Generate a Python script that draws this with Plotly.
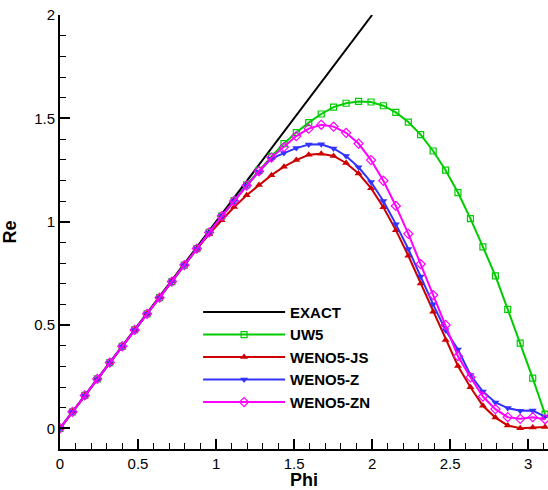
import plotly.graph_objects as go

phi = [0, 0.080, 0.159, 0.239, 0.319, 0.399, 0.478, 0.558, 0.638, 0.717,
       0.797, 0.877, 0.956, 1.036, 1.116, 1.196, 1.275, 1.355, 1.435, 1.514,
       1.594, 1.674, 1.753, 1.833, 1.913, 1.993, 2.072, 2.152, 2.232, 2.311,
       2.391, 2.471, 2.550, 2.630, 2.710, 2.790, 2.869, 2.949, 3.029, 3.108]

exact_x = [0, 2]
exact_y = [0, 2]

uw5 = [0, 0.080, 0.159, 0.239, 0.318, 0.397, 0.476, 0.554, 0.632, 0.710,
       0.790, 0.870, 0.948, 1.027, 1.102, 1.178, 1.248, 1.316, 1.378, 1.431,
       1.479, 1.521, 1.554, 1.573, 1.582, 1.579, 1.561, 1.529, 1.482, 1.421,
       1.342, 1.249, 1.141, 1.015, 0.878, 0.738, 0.576, 0.412, 0.243, 0.069]

weno5_js = [0, 0.080, 0.159, 0.238, 0.317, 0.396, 0.474, 0.553, 0.634, 0.713,
            0.792, 0.868, 0.940, 1.007, 1.071, 1.128, 1.177, 1.225, 1.266, 1.298,
            1.324, 1.329, 1.318, 1.284, 1.233, 1.162, 1.070, 0.959, 0.835, 0.701,
            0.564, 0.428, 0.302, 0.199, 0.109, 0.052, 0.014, 0.001, 0.004, 0.006]

weno5_z = [0, 0.080, 0.159, 0.239, 0.318, 0.397, 0.476, 0.554, 0.632, 0.710,
           0.790, 0.870, 0.948, 1.027, 1.100, 1.175, 1.242, 1.305, 1.332, 1.356,
           1.373, 1.374, 1.354, 1.318, 1.263, 1.192, 1.100, 0.988, 0.868, 0.735,
           0.600, 0.475, 0.381, 0.258, 0.178, 0.125, 0.098, 0.085, 0.086, 0.057]

weno5_zn = [0, 0.080, 0.159, 0.239, 0.318, 0.397, 0.476, 0.554, 0.632, 0.710,
            0.790, 0.870, 0.948, 1.027, 1.100, 1.175, 1.244, 1.310, 1.361, 1.414,
            1.450, 1.469, 1.460, 1.430, 1.378, 1.298, 1.198, 1.076, 0.941, 0.795,
            0.645, 0.500, 0.349, 0.247, 0.154, 0.093, 0.054, 0.046, 0.054, 0.044]

X_RANGE = [0, 3.127]
Y_RANGE = [-0.1, 2.0]

FONT = "Liberation Sans, Arial, Helvetica, sans-serif"

fig = go.Figure()
fig.add_trace(go.Scatter(x=exact_x, y=exact_y, mode="lines", name="EXACT",
                         line=dict(color="black", width=2)))
fig.add_trace(go.Scatter(x=phi, y=uw5, mode="lines+markers", name="UW5",
                         line=dict(color="rgb(0,204,0)", width=2),
                         marker=dict(symbol="square-open", size=6, color="rgb(0,204,0)",
                                     line=dict(width=1.2))))
fig.add_trace(go.Scatter(x=phi, y=weno5_js, mode="lines+markers", name="WENO5-JS",
                         line=dict(color="rgb(204,0,0)", width=2),
                         marker=dict(symbol="triangle-up", size=7, color="rgb(204,0,0)")))
fig.add_trace(go.Scatter(x=phi, y=weno5_z, mode="lines+markers", name="WENO5-Z",
                         line=dict(color="rgb(51,51,255)", width=2),
                         marker=dict(symbol="triangle-down", size=7, color="rgb(51,51,255)")))
fig.add_trace(go.Scatter(x=phi, y=weno5_zn, mode="lines+markers", name="WENO5-ZN",
                         line=dict(color="rgb(255,0,255)", width=2),
                         marker=dict(symbol="diamond-open", size=7, color="rgb(255,0,255)",
                                     line=dict(width=1.2))))

fig.update_layout(
    template="none",
    width=548, height=490,
    margin=dict(l=60, r=0, t=15, b=41),
    paper_bgcolor="white", plot_bgcolor="white",
    font=dict(family=FONT, color="black"),
    showlegend=True,
    legend=dict(x=0.283, y=0.353, xanchor="left", yanchor="top",
                bgcolor="rgba(0,0,0,0)", borderwidth=0,
                font=dict(family=FONT, size=15, color="black", weight="bold"),
                itemwidth=82, tracegroupgap=0),
)

axis_style = dict(
    tickmode="linear", tick0=0, dtick=0.5,
    showline=True, linecolor="black", linewidth=2,
    showgrid=False, zeroline=False, automargin=False,
    ticks="inside", ticklen=10, tickwidth=2, tickcolor="black",
    tickfont=dict(family=FONT, size=15, color="black"),
    minor=dict(ticks="inside", ticklen=6, tickwidth=1, tickcolor="black",
               dtick=0.1, tick0=0, showgrid=False),
)

fig.update_xaxes(range=X_RANGE,
                 title=dict(text="<b>Phi</b>", font=dict(family=FONT, size=18), standoff=0),
                 **axis_style)
fig.update_yaxes(range=Y_RANGE,
                 title=dict(text="<b>Re</b>", font=dict(family=FONT, size=18), standoff=14),
                 **axis_style)

fig.write_html("out.html",
               config={"displayModeBar": False},
               post_script="document.body.style.margin='0';document.body.style.overflow='hidden';")
